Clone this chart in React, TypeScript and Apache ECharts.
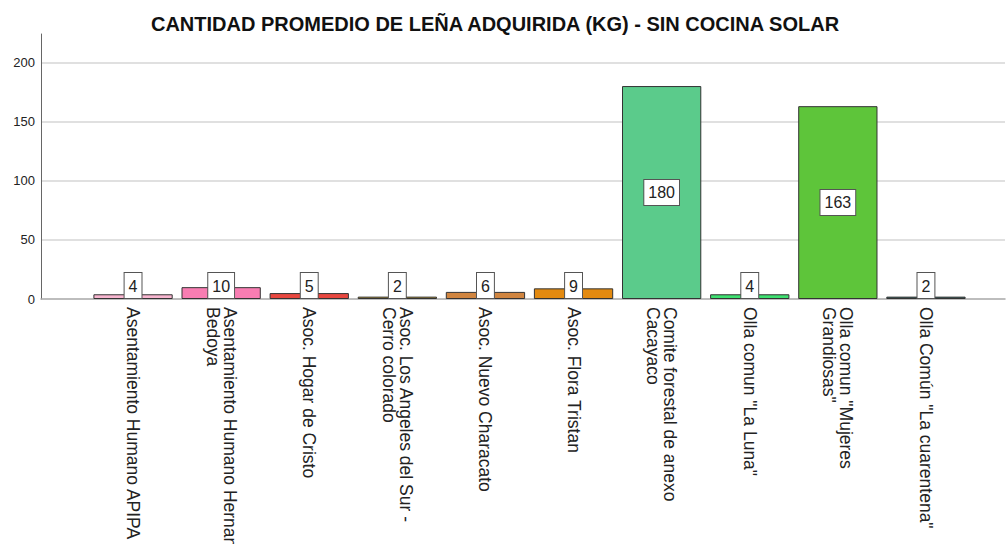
import React, { useEffect, useRef } from "react";
import * as echarts from "echarts";

const titleText = "CANTIDAD PROMEDIO DE LEÑA ADQUIRIDA (KG) - SIN COCINA SOLAR";
const categories = [
  "Asentamiento Humano APIPA",
  "Asentamiento Humano Hernan\nBedoya",
  "Asoc. Hogar de Cristo",
  "Asoc. Los Angeles del Sur -\nCerro colorado",
  "Asoc. Nuevo Characato",
  "Asoc. Flora Tristan",
  "Comite forestal de anexo\nCacayaco",
  "Olla comun \"La Luna\"",
  "Olla comun \"Mujeres\nGrandiosas\"",
  "Olla Común \"La cuarentena\"",
];
const values = [4, 10, 5, 2, 6, 9, 180, 4, 163, 2];
const barColors = [
  "#f8b6d0",
  "#f87db2",
  "#e8473f",
  "#b8900a",
  "#d08540",
  "#e38a10",
  "#5bcb8b",
  "#3ee070",
  "#5ec53a",
  "#0e4a44",
];
const yMax = 224;
const yInterval = 50;

const LABEL_FONT = "'Liberation Sans', Arial, sans-serif";
const LH = 17;

export default function App() {
  const ref = useRef<HTMLDivElement>(null);
  useEffect(() => {
    if (!ref.current) return;
    const chart = echarts.init(ref.current, undefined, { renderer: "svg" });
    const top = 34;
    const bottom = 245;
    const option: any = {
      animation: false,
      backgroundColor: "#ffffff",
      title: {
        text: titleText,
        left: 490,
        textAlign: "center",
        top: 9,
        textStyle: {
          fontFamily: "'Liberation Sans', Arial, sans-serif",
          fontWeight: "bold",
          fontSize: 20,
          color: "#111",
        },
      },
      grid: [
        { left: 89, right: 37, top, bottom, outerBoundsMode: "none", containLabel: false },
        { left: 41, right: 2, top, bottom, outerBoundsMode: "none", containLabel: false },
      ],
      xAxis: [
        {
          type: "category",
          gridIndex: 0,
          data: categories.map((c) => ({
            value: c,
            textStyle: { padding: [c.includes("\n") ? LH + 6 : 6, 0, 0, 0] },
          })),
          axisLine: { show: false },
          axisTick: { show: false },
          axisLabel: {
            rotate: -90,
            interval: 0,
            margin: 8,
            fontSize: 17.5,
            lineHeight: LH,
            fontFamily: LABEL_FONT,
            color: "#222",
          },
        },
        {
          type: "value",
          gridIndex: 1,
          min: 0,
          max: 1,
          axisLine: { show: true, lineStyle: { color: "#a8a8a8", width: 1.5 } },
          axisTick: { show: false },
          axisLabel: { show: false },
          splitLine: { show: false },
        },
      ],
      yAxis: [
        {
          type: "value",
          gridIndex: 0,
          min: 0,
          max: yMax,
          interval: yInterval,
          show: false,
          splitLine: { show: false },
        },
        {
          type: "value",
          gridIndex: 1,
          min: 0,
          max: yMax,
          interval: yInterval,
          axisLine: { show: true, lineStyle: { color: "#666", width: 1 } },
          axisTick: { show: false },
          axisLabel: {
            showMaxLabel: false,
            margin: 6,
            fontSize: 13,
            fontFamily: "'Liberation Sans', Arial, sans-serif",
            color: "#222",
            formatter: (v: number) => (v % yInterval === 0 ? String(v) : ""),
          },
          splitLine: {
            show: true,
            showMaxLine: false,
            showMinLine: false,
            lineStyle: { color: "#d6d6d6", width: 1.5 },
          },
        },
      ],
      series: [
        {
          type: "bar",
          xAxisIndex: 0,
          yAxisIndex: 0,
          barCategoryGap: "10%",
          data: values.map((v, i) => ({
            value: v,
            itemStyle: { color: barColors[i] },
            label: v < 30 ? { position: "insideBottom", distance: 1 } : { position: "inside" },
          })),
          itemStyle: { borderColor: "#333", borderWidth: 1 },
          label: {
            show: true,
            formatter: "{c}",
            fontSize: 16,
            fontFamily: "'Liberation Sans', Arial, sans-serif",
            color: "#222",
            backgroundColor: "#fff",
            borderColor: "#555",
            borderWidth: 1,
            padding: [5, 4, 4, 4],
          },
        },
      ],
    };
    chart.setOption(option);
    return () => chart.dispose();
  }, []);
  return (
    <div
      ref={ref}
      style={{ position: "fixed", left: 0, top: 0, width: 1007, height: 544, background: "#fff" }}
    />
  );
}
